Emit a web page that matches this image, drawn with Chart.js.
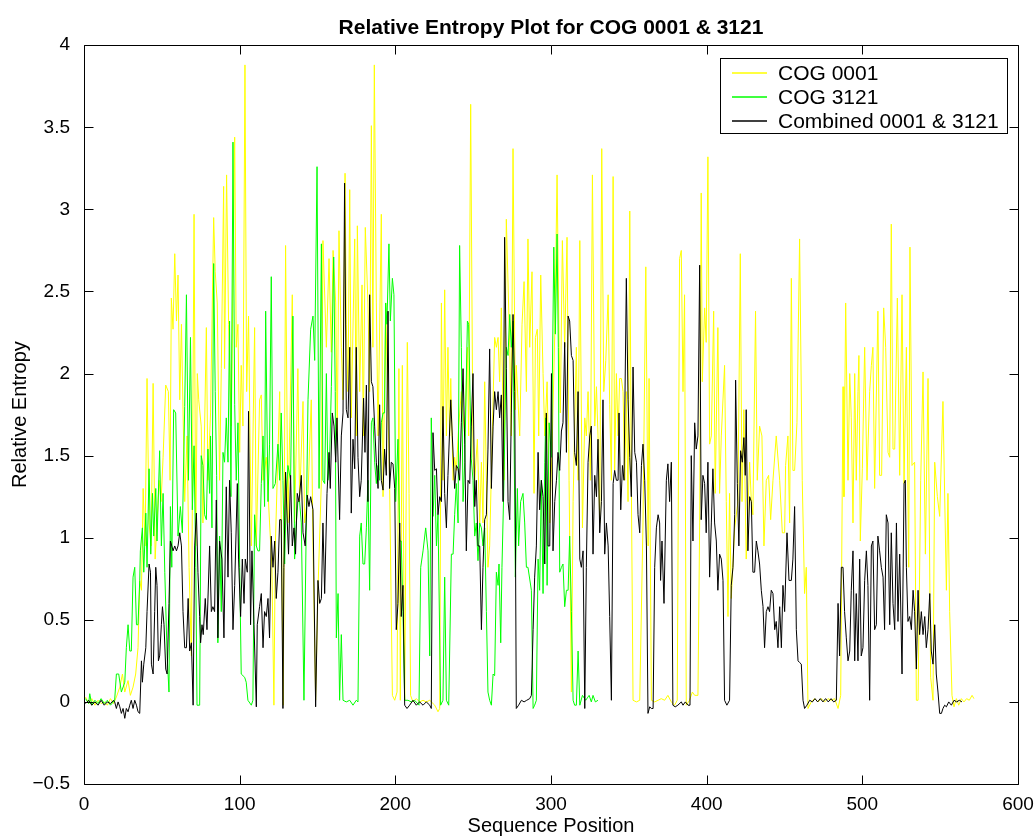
<!DOCTYPE html>
<html>
<head>
<meta charset="utf-8">
<title>Relative Entropy Plot for COG 0001 &amp; 3121</title>
<script src="https://cdn.jsdelivr.net/npm/chart.js@4.4.1/dist/chart.umd.min.js"></script>
<style>
	html, body { margin: 0; padding: 0; background: #ffffff; }
	#wrap { width: 1036px; height: 838px; }
</style>
</head>
<body>
<div id="wrap"><canvas id="entropy" width="1036" height="838"></canvas></div>
<script>

	/* Data: [sequence position, relative entropy] */

	var seriesLabels = ['COG 0001', 'COG 3121', 'Combined 0001 & 3121'];
	var seriesColors = ['#ffff00', '#00ff00', '#000000'];

	var cog0001 = [
		[1,0.03],[3,-0.01],[5,0.02],[7,-0.02],[9,0.01],[11,-0.01],[13,0],[15,-0.02],[17,0.02],[19,-0.01],[20.8,0.03],[23,0.09],[24.7,0.17],[26.2,0.06],[28.3,0.13],[29.8,0.04],[31.5,0.09],[33.2,0.17],[34.7,0.33],[35.8,0.74],[36.9,0.68],[38,1.3],[39.2,0.95],[40.5,1.97],[41.8,1.09],[43.1,0.95],[44.4,1.94],[45.7,0.87],[46.9,1.09],[48.2,1.35],[49.5,1.22],[50.8,1.49],[52.5,1.93],[54.2,1.89],[55.3,1.35],[56.1,2.46],[57.2,2.27],[58.3,2.73],[59.4,2.32],[60.4,2.6],[61.5,1.84],[62.6,2.3],[63.6,1.78],[64.7,1.22],[66.2,1.62],[67.5,0.82],[69,0.28],[70.7,2.97],[71.8,0.95],[72.8,2.0],
		[73.7,1.84],[75.3,1.68],[76.4,1.09],[78.6,2.28],[79.6,1.35],[81.3,1.76],[83.3,2.95],[84.3,2.62],[85.6,2.43],[87.1,1.35],[88.2,2.03],[89.7,3.14],[90.3,2.03],[91.6,3.21],[92.9,2.3],[94.6,1.68],[96.8,3.44],[97.8,2.16],[98.9,2.3],[100,1.52],[101,2.05],[102.1,1.68],[103.4,3.88],[104.5,1.89],[105.7,2.35],[107.5,0.95],[109.6,2.28],[110.7,0.95],[112.8,1.84],[113.9,1.87],[115,1.35],[117.1,1.49],[119.2,1.09],[120.7,0.82],[122,-0.02],[122.9,0.95],[125.7,1.89],[126.7,1.14],[128,-0.02],[129.5,2.78],[131,1.09],[133.8,2.48],[135.3,1.09],[137.4,2.03],[138.5,1.22],[140.7,1.83],[141.7,1.09],[143.9,1.27],[146,1.84],
		[147.1,0.95],[148.8,0.01],[150.3,0.68],[152.5,1.35],[153.5,2.81],[155.7,2.16],[157.4,2.7],[158.9,2.13],[160,2.75],[161.7,2.43],[162.7,1.62],[163.8,2.87],[165.3,2.16],[166.4,1.84],[167.7,3.22],[168.5,2.3],[169.6,1.89],[170.7,3.12],[171.7,1.73],[173.9,2.82],[174.9,1.62],[175.6,2.9],[177.1,1.89],[178.6,2.54],[179.4,1.62],[180.7,2.89],[182.4,2.43],[183.5,1.89],[184.6,3.51],[185.6,2.16],[186.5,3.88],[187.8,2.43],[188.9,1.62],[191,2.97],[192.1,1.25],[193.8,2.43],[195.3,1.76],[196.3,1.35],[198.1,0.04],[199.6,0.01],[201.1,0.06],[202.3,2.03],[203.2,0.01],[204.5,2.05],[206,0.01],[207.7,2.19],[208.8,1.27],[209.8,0.04],[211.3,0],[213.5,0.02],[215.6,0],[217.8,0.01],[219.9,0],
		[222.1,0.01],[225.3,-0.02],[227.4,-0.06],[228.5,-0.04],[229.6,2.43],[230.6,1.35],[231.7,2.51],[232.8,1.62],[233.8,2.16],[234.9,1.62],[235.6,1.97],[237.1,1.35],[238.1,1.49],[239.2,1.41],[240.7,1.68],[242.4,1.89],[244.6,1.62],[246.3,2.16],[247.1,1.62],[248.4,3.64],[249.9,1.49],[251,1.35],[252.7,1.6],[254.2,1.09],[255.3,1.46],[256.3,1.09],[257.4,1.95],[258.5,1.35],[259.5,0.82],[260.6,0.95],[262.1,1.57],[263.8,2.22],[264.9,2.16],[266,2.22],[267,1.95],[268.1,2.4],[269.8,1.35],[271.3,2.94],[273.5,2.16],[274.5,1.62],[275.6,3.37],[277.1,1.78],[277.7,2.05],[279.9,1.62],[281.4,2.3],[282.7,2.56],[284.2,1.89],[285.2,2.82],[286.3,2.16],[287.8,2.62],[289.1,1.27],[290,2.22],[291.2,2.27],[292.1,1.62],[293.4,2.6],[294.9,2.0],
		[296,1.62],[297.5,1.95],[299.2,1.09],[300.9,1.62],[302.4,2.24],[303.9,3.21],[305.2,2.16],[306,1.76],[307.3,2.81],[308.8,2.16],[310.3,2.83],[311.6,1.35],[313.1,0.06],[314.2,1.22],[316.3,2.16],[317.4,1.35],[318.5,2.81],[320.2,1.06],[321.7,1.73],[322.7,1.62],[323.8,1.89],[325.3,1.35],[326.6,3.21],[328.1,1.68],[329.2,1.92],[330.2,1.62],[331.3,1.09],[332.6,3.37],[333.9,1.89],[335.2,2.08],[336.7,2.48],[337.7,1.81],[338.8,1.35],[339.9,3.2],[340.9,1.41],[342,2.0],[343.1,1.62],[344.1,1.97],[345.2,1.97],[346.3,1.89],[347.4,1.35],[348.4,1.89],[349.5,1.22],[350.6,2.99],[351.6,1.35],[352.7,0.01],[354.9,0],[357,0.01],[359.1,1.09],[360.9,2.65],[362.4,0.95],[363,1.97],[364.5,0.01],[366.6,0],[368.8,0.01],
		[370.8,0.02],[373,0.01],[375.1,0.04],[377.3,0],[379.4,-0.02],[381.1,0.01],[382.6,2.7],[383.7,2.75],[384.8,1.89],[385.8,2.48],[386.9,-0.02],[389,0.01],[390.8,0.06],[392.3,0.04],[394.4,0.04],[395.5,1.09],[396.5,3.1],[397.2,1.95],[398.7,2.4],[399.7,2.19],[400.8,3.32],[401.9,1.57],[403,1.62],[404.5,2.38],[405.5,1.27],[407.2,2.28],[408.3,1.27],[409.4,1.62],[411.5,2.05],[412.6,1.22],[413.7,0.52],[414.7,1.27],[415.8,0.63],[418,1.06],[420.1,1.22],[421.6,2.73],[422.7,1.22],[423.9,1.78],[425.4,0.87],[427.6,1.46],[428.7,1.22],[429.7,1.14],[431.4,2.38],[432.5,1.35],[434,1.68],[435.5,1.62],[436.8,0.95],[438.3,1.35],[439.8,1.38],[441.1,1.11],[442.6,1.35],
		[444.7,1.62],[446.9,1.35],[448.6,1.03],[450.1,1.03],[450.7,1.44],[452.2,1.62],[453.3,1.09],[454.4,2.58],[455.4,1.41],[456.5,1.41],[458,1.7],[459.7,2.82],[461.4,1.35],[462.9,0.66],[464,0.82],[465.1,-0.04],[467.2,0],[469.4,0.02],[471.5,0],[473.6,0.02],[475.8,0],[477.9,0.02],[480.1,0.01],[482.2,0.02],[484.4,-0.04],[486.1,0.04],[487.6,1.92],[488.2,1.25],[489.3,2.43],[490.8,1.35],[491.9,2.0],[492.9,1.73],[494,1.09],[495.1,2.0],[496.1,1.35],[497.2,1.89],[497.8,2.11],[498.7,0.98],[500,1.42],[501.5,2.16],[503,1.35],[504.7,1.89],[505.8,2.05],[506.8,2.16],[507.9,1.3],[510,2.38],[511.1,1.38],[512.4,1.38],[513.7,2.4],[515,2.16],[516.5,1.52],
		[517.6,1.49],[518.6,2.91],[519.7,1.54],[520.8,1.54],[522.5,2.46],[524,1.38],[525.5,2.48],[526.8,1.33],[528.3,2.16],[529.8,0.82],[530.6,2.77],[531.9,1.44],[533.6,1.46],[534.7,0.01],[535.8,0.01],[537.5,1.35],[539,2.01],[540.5,0.9],[542.2,1.97],[543.9,0.15],[545.4,0.01],[546.5,1.46],[548.2,1.25],[549.7,1.13],[551.8,1.83],[554,0.68],[555,1.27],[556.1,0.55],[557.6,0.04],[558.9,-0.03],[560.4,0.02],[561.9,-0.02],[563.6,0.02],[565.3,0],[567,0.02],[568.7,0.01],[570.5,0.04],[571.7,0.02]
	];

	var cog3121 = [
		[1,0.02],[3,-0.01],[3.7,0.05],[5,-0.02],[7,0.01],[9,-0.01],[11,0.02],[13,-0.01],[15,0.01],[17,-0.02],[19.7,0.01],[20.8,0.17],[22.3,0.17],[24,0.06],[26.2,0.12],[27.2,0.33],[28.3,0.47],[29.4,0.31],[30.4,0.31],[31.5,0.76],[32.6,0.82],[33.7,0.47],[34.7,0.47],[35.8,0.74],[36.2,0.92],[37.5,1.06],[38.4,0.79],[39.7,1.15],[40.5,0.82],[41.8,1.42],[42.9,0.9],[44,1.27],[44.8,1.01],[46.1,1.3],[46.9,0.98],[48.6,1.53],[49.7,0.95],[50.8,1.27],[51.9,0.79],[53.4,0.28],[54.6,0.06],[55.5,1.19],[56.4,0.82],[57.6,1.78],[58.9,1.76],[60.4,1.01],[61.9,1.19],[63.2,1.03],[64.7,1.8],[65.8,2.48],[67.1,1.35],[68.4,2.22],[69.6,1.17],[70.7,1.56],[71.8,0.82],[72.6,-0.02],
		[74.3,-0.02],[75.3,1.5],[76.4,1.44],[77.5,1.14],[78.6,1.11],[79.6,1.54],[80.7,1.27],[81.3,1.62],[82.2,1.06],[83.3,2.67],[84.3,1.89],[85.2,1.38],[86,0.36],[87.1,1.01],[88.2,0.55],[89.3,1.52],[90.3,1.46],[91.4,1.73],[92.5,1.46],[93.5,2.32],[94.4,1.25],[95.7,3.41],[96.8,1.81],[97.8,1.35],[98.9,1.7],[100,0.82],[101,0.17],[103.2,0.15],[104.2,0.12],[105.3,0.01],[107.5,-0.02],[108.5,0.01],[109.6,1.14],[110.7,0.95],[111.7,0.92],[112.8,0.92],[113.9,1.33],[115,1.62],[116,1.19],[116.7,2.38],[118.2,1.22],[119.2,1.57],[120.3,2.59],[121.4,1.3],[122.9,1.33],[124.6,1.57],[125.7,1.35],[126.7,1.76],[127.8,1.35],[128.9,0.84],[129.9,1.25],[131,1.44],[132.7,1.35],[134.2,2.35],[135.3,0.87],[136.4,1.09],[137.4,1.22],[138.5,1.22],[139.6,1.09],[141.3,0.01],[142.8,1.09],[143.9,1.84],[145.6,2.27],
		[147.1,2.35],[148.2,2.08],[149.7,3.26],[151,1.3],[152.5,2.79],[153.5,1.35],[154.6,1.33],[155.7,2.0],[156.7,1.35],[157.8,1.49],[158.9,1.92],[160.4,2.71],[161.4,1.89],[162.1,0.39],[163.2,0.66],[164.2,0.01],[165.3,0.41],[166.4,0.01],[168.5,0],[170.7,0.01],[172.8,-0.02],[174.9,0.01],[176,0],[177.1,1.01],[178.1,1.09],[179.2,0.84],[180.3,0.84],[181.4,1.06],[182.4,1.35],[183.5,0.68],[184.6,1.7],[185.6,1.73],[186.7,1.46],[187.8,1.33],[188.9,1.44],[189.9,1.35],[191,1.7],[192.1,1.76],[193.1,1.76],[193.8,2.43],[194.6,2.3],[195.9,2.79],[196.8,2.32],[198.1,2.58],[199.1,2.48],[200.2,1.22],[201.7,1.6],[202.8,0.98],[203.8,0.98],[204.9,0.55],[206,0.01],[208.1,0.01],[210.3,0],[212.4,0.01],[215.2,-0.02],[216.3,0.82],[217.8,0.92],[219.5,1.06],[221,0.92],
		[222.1,0.28],[223.1,1.73],[224.2,1.13],[225.3,1.38],[226.4,0.95],[227.4,1.14],[229.1,-0.02],[230.6,0.01],[231.7,0.76],[232.8,0.01],[234.3,-0.02],[236,0.9],[237.1,0.9],[238.1,1.14],[239.2,1.33],[240.3,1.09],[241.3,2.78],[242.4,2.16],[243.5,1.22],[244.6,1.46],[246.3,2.32],[247.1,2.3],[248.8,1.48],[249.9,1.35],[251,1.01],[252,1.09],[253.1,0.86],[254.2,1.09],[255.3,1.06],[256.3,0.95],[257.4,1.06],[258.5,0.55],[259.5,0.06],[260.6,0.01],[261.7,-0.02],[262.8,0.17],[263.8,0.16],[264.9,0.79],[266,0.71],[266.6,0.84],[267.7,0.36],[268.5,0.82],[269.8,1.35],[271.3,2.16],[272.4,2.11],[273.5,2.36],[274.5,2.16],[275.6,2.32],[277.1,0.76],[278.4,1.3],[279.2,0.95],[280.5,1.22],[282,1.27],[283.1,1.09],[284.2,0.82],[285.2,0.82],[287.4,0.68],[288.5,-0.04],[289.5,-0.02],[290.6,0.01],[291.7,0.87],[292.7,0.68],[293.8,1.35],[294.9,0.66],
		[296,1.46],[296.6,1.73],[297.5,0.71],[298.8,1.7],[300.3,1.49],[301.8,2.77],[302.8,2.24],[303.9,2.85],[304.7,2.16],[305.6,0.79],[306.7,0.82],[307.7,0.84],[308.8,0.58],[309.9,0.68],[311,0.68],[312,1.01],[313.1,0.55],[314.2,0.01],[315.2,-0.02],[316.3,-0.02],[317.4,0.31],[318.5,-0.02],[320.2,0.04],[322.3,0.01],[324.5,0.04],[325.9,0],[327,0.04],[328.5,0],[330.2,0.01]
	];

	var combined = [
		[1,-0.01],[3,0.01],[5,-0.02],[7,0],[9,-0.02],[11,0.01],[13,-0.02],[15,0],[17,-0.01],[19,0.01],[19.7,0],[20.8,-0.04],[21.9,0],[23,-0.03],[24,-0.07],[25.1,-0.04],[26.2,-0.1],[27.2,-0.04],[28.3,-0.06],[29.4,-0.02],[30.4,0.01],[31.5,-0.04],[32.6,0.01],[33.7,-0.02],[34.7,-0.06],[35.8,-0.07],[36.9,0.25],[37.5,0.12],[38.4,0.23],[39.7,0.33],[40.5,0.55],[41.8,0.84],[42.7,0.79],[43.3,0.23],[44.4,0.17],[45.4,0.55],[46.1,0.82],[46.9,0.71],[47.8,0.25],[48.6,0.28],[49.7,0.47],[50.4,0.58],[51.4,0.47],[52.5,0.2],[53.4,0.17],[54.6,0.6],[55.5,0.98],[56.4,0.95],[57.2,0.92],[58.3,0.95],[59.4,0.92],[60.4,0.95],[61.5,1.03],[62.6,0.95],[63.6,0.55],[64.7,0.33],[65.8,0.33],[66.9,0.63],[67.9,0.31],[69,0.36],[70.1,-0.02],[71.1,0.95],[72.2,1.15],
		[73.2,0.79],[74.3,0.52],[74.9,0.36],[75.8,0.47],[76.6,0.41],[77.9,0.63],[79,0.44],[80.7,0.95],[81.8,0.55],[82.8,0.58],[83.9,0.55],[85,1.23],[86,0.39],[87.1,0.98],[88.6,0.87],[89.9,0.39],[91.4,1.31],[92.5,0.76],[93.5,1.35],[94.6,1.03],[95.7,0.44],[96.8,0.71],[98.5,1.33],[99.3,0.87],[100.6,0.52],[101.7,0.87],[102.8,0.6],[103.6,0.87],[104.9,0.79],[105.7,1.77],[107,0.47],[107.9,0.92],[109.2,0.47],[110.7,-0.03],[111.3,0.47],[112.8,0.58],[113.9,0.66],[115,0.33],[116,0.55],[117.1,0.52],[118.2,0.63],[119.2,0.39],[120.3,1.01],[121.4,0.82],[122.5,0.98],[123.5,0.63],[124.6,0.79],[125.7,1.11],[126.7,1.11],[127.8,-0.04],[128.4,0.82],[129.5,1.4],[130.6,1.09],[131.4,0.9],[132.7,1.38],[133.8,0.95],[134.9,1.06],[135.9,0.9],[137,1.27],[138.1,1.22],[139.6,1.38],[140.7,1.03],[142.1,0.95],[143.4,1.26],[144.5,1.19],[145.6,1.25],[147.1,1.17],
		[148.8,-0.03],[150.3,0.74],[151.4,0.6],[152.5,0.63],[153.5,1.09],[154.6,0.66],[156.1,1.27],[157.4,1.52],[158.2,1.3],[159.5,1.76],[160.6,1.68],[161.7,1.46],[162.5,1.73],[164.2,1.11],[165.3,1.62],[166.4,1.76],[167.4,3.16],[168.5,1.78],[169.6,1.73],[170.7,2.16],[171.7,1.15],[172.8,1.6],[173.9,1.42],[174.9,2.16],[176,1.49],[177.1,1.25],[178.1,1.35],[179.6,1.85],[180.5,1.52],[181.4,1.93],[182.4,1.22],[183.5,2.48],[184.6,1.95],[185.6,1.92],[186.7,1.68],[187.8,1.46],[188.9,1.3],[189.9,1.81],[191,1.35],[192.1,1.29],[193.1,1.54],[194.2,1.38],[195.3,2.38],[196.3,1.3],[197.4,1.46],[198.5,1.45],[199.6,1.3],[200.6,0.44],[201.7,0.6],[202.8,1.09],[203.8,0.52],[204.9,0.71],[206,-0.02],[207.5,-0.04],[209.2,-0.02],[211.3,0.01],[213.5,-0.02],[215.6,0],[217.8,-0.02],[219.9,0],
		[222.1,-0.02],[223.1,-0.04],[224.2,1.64],[225.3,1.41],[226.4,1.42],[227.4,1.14],[228.5,1.25],[229.6,1.22],[230.6,1.8],[231.7,1.27],[232.8,1.06],[233.8,1.38],[235.6,1.84],[236.6,1.62],[238.1,1.3],[239.2,1.44],[240.3,1.42],[241.3,1.35],[242.4,1.7],[243.5,2.03],[244.6,1.57],[245.6,0.92],[246.7,1.35],[247.8,1.33],[248.8,1.68],[249.9,2.0],[251,1.19],[252,1.35],[253.1,0.95],[254.2,0.95],[255.3,0.44],[256.3,0.82],[257.4,1.11],[258.5,1.14],[259.5,1.54],[260.6,2.15],[261.7,1.3],[262.8,1.68],[263.8,1.89],[264.9,1.78],[266,1.89],[267,1.73],[268.1,1.87],[269.2,1.22],[270.2,2.83],[271.3,2.03],[272.4,1.22],[273.5,1.11],[274.5,1.76],[275.6,2.36],[276.7,1.89],[277.7,-0.04],[279.2,-0.02],[281,0.01],[282.7,0],[284.4,0.01],[286.3,0.02],[287.4,0.04],[288.5,0.44],[289.5,0.76],[290.6,0.95],[291.7,1.52],[292.7,1.17],[293.8,1.35],[294.9,1.25],
		[296,0.84],[297,1.76],[298.1,0.95],[299.2,0.95],[300.3,2.0],[301.3,0.92],[302.4,1.22],[303.5,1.35],[304.5,1.52],[305.6,1.41],[306.7,1.65],[307.7,1.7],[308.8,2.19],[309.9,1.52],[311,2.35],[312,2.32],[313.1,2.11],[314.2,2.08],[315.2,1.52],[316.3,1.44],[317.4,1.89],[318.5,0.87],[319.5,0.82],[320.6,0.92],[321.7,-0.04],[322.7,0.82],[323.8,1.46],[324.9,1.62],[325.9,1.68],[327,0.9],[328.1,1.38],[329.2,1.25],[330.2,1.6],[331.3,1.03],[332.4,1.22],[333.4,1.84],[334.5,0.9],[335.6,1.09],[336.7,0.95],[337.7,0.52],[338.8,0.01],[339.9,1.33],[340.9,1.41],[342,1.35],[343.1,1.35],[343.7,1.76],[344.8,1.17],[345.9,1.44],[346.9,1.35],[348.4,2.58],[349.5,1.84],[350.6,1.49],[351.6,1.25],[352.7,2.04],[353.8,1.52],[354.9,1.46],[355.9,1.14],[357,1.03],[358.1,1.44],[359.1,1.57],[360.2,1.35],[361.3,0.95],[362.3,-0.07],[363.4,-0.03],[364.5,-0.04],[365.6,-0.04],[366.6,0.82],[367.7,1.06],[368.8,1.14],
		[369.8,1.09],[370.4,0.74],[371.3,0.98],[372.6,0.6],[374.1,1.35],[375.1,1.45],[376.2,1.22],[377.3,1.46],[378.3,-0.02],[379.8,-0.03],[381.5,-0.02],[383.7,0],[384.8,-0.02],[386.3,0],[388,-0.02],[389.3,-0.02],[390.1,1.5],[391.2,0.98],[392.3,1.7],[393.3,1.54],[394.4,1.62],[395.5,2.66],[396.5,1.11],[397.6,1.38],[398.7,1.33],[399.7,1.03],[400.8,1.46],[401.9,0.76],[403,1.09],[404,1.42],[405.1,1.09],[406.2,0.98],[407.2,0.68],[408.3,0.9],[409.4,0.87],[410.5,0.74],[411.5,0.01],[413,-0.02],[414.7,0.01],[415.8,0.71],[416.9,0.82],[418,1.14],[418.6,1.96],[419.7,1.33],[420.7,0.95],[421.8,1.53],[422.9,1.46],[423.9,1.61],[424.8,1.38],[425.4,1.78],[426.5,0.92],[427.6,1.25],[428.7,1.22],[429.7,0.79],[430.8,0.79],[431.9,0.98],[432.9,0.92],[434,0.84],[435.1,0.68],[436.2,0.58],[437.2,0.33],[438.3,0.55],[439.4,0.58],[440.4,0.55],[441.5,0.68],[442.6,0.66],
		[443.7,0.44],[444.7,0.49],[445.8,0.33],[446.9,0.58],[448,0.33],[449,0.71],[450.1,0.55],[451.6,1.03],[452.9,0.74],[454.4,0.74],[455.4,0.87],[456.5,1.19],[457.6,0.44],[458.7,0.25],[459.7,0.24],[460.8,0.23],[461.9,0.01],[462.9,-0.04],[464.4,-0.02],[466.2,0.01],[467.9,0],[469.6,0.02],[471.3,0],[473,0.02],[474.7,0],[476.4,0.02],[478.1,0],[479.9,0.02],[481.6,0],[483.3,0.01],[484.4,0.6],[485.4,0.28],[486.5,0.82],[487.6,0.82],[488.6,0.55],[489.7,0.39],[490.8,0.25],[491.9,0.31],[492.9,0.68],[494,0.92],[495.1,0.25],[496.1,0.66],[497.2,0.25],[498.3,0.87],[499.3,0.28],[500.4,0.33],[501.5,0.74],[502.6,0.92],[503.6,0.71],[504.7,0.01],[505.8,0.95],[506.8,0.98],[507.9,0.44],[509,0.47],[510,1.01],[511.1,0.92],[512.2,0.82],[513.3,0.76],[514.3,0.44],[515.4,1.14],[516.5,1.09],
		[517.6,0.47],[518.6,1.03],[519.7,0.6],[520.8,0.44],[521.9,1.09],[522.9,0.49],[524,0.9],[525.5,0.17],[526.8,1.33],[527.6,1.35],[528.3,0.82],[529.3,0.49],[530.4,0.52],[531.5,0.44],[532.6,0.68],[533.6,0.55],[534.7,0.2],[535.8,0.68],[536.8,0.41],[537.9,0.55],[539,0.41],[540.1,0.52],[541.1,0.33],[542.2,0.44],[543.3,0.66],[544.3,0.31],[545.4,0.23],[546.5,0.47],[547.5,0.17],[548.6,0.06],[549.7,-0.07],[550.8,-0.07],[551.8,-0.04],[552.9,-0.02],[554,-0.03],[555.5,0],[557.2,-0.02],[558.9,0.01],[560.6,0],[562.3,0.01],[564,0]
	];

	var xTickStep = 100;
	var yTickStep = 0.5;


	/* helpers */

	function toPoints(pairs) {
		return pairs.map(function(p) { return { x: p[0], y: p[1] }; });
	}

	var FONT = "'Liberation Sans', Arial, Helvetica, sans-serif";
	Chart.defaults.font.family = FONT;
	Chart.defaults.color = '#000000';


	/* matlab style box with inward ticks on all four sides */

	var axesBox = {
		id: 'axesBox',
		afterDatasetsDraw: function(chart) {
			var ctx = chart.ctx;
			var a = chart.chartArea;
			var xs = chart.scales.x;
			var ys = chart.scales.y;
			var L = Math.round(a.left) + 0.5, R = Math.round(a.right) + 0.5;
			var T = Math.round(a.top) + 0.5, B = Math.round(a.bottom) + 0.5;
			var len = 9;

			ctx.save();
			ctx.strokeStyle = '#000000';
			ctx.lineWidth = 1;
			ctx.beginPath();
			ctx.rect(L, T, R - L, B - T);

			xs.ticks.forEach(function(t) {
				var px = Math.round(xs.getPixelForValue(t.value)) + 0.5;
				ctx.moveTo(px, B); ctx.lineTo(px, B - len);
				ctx.moveTo(px, T); ctx.lineTo(px, T + len);
			});
			ys.ticks.forEach(function(t) {
				var py = Math.round(ys.getPixelForValue(t.value)) + 0.5;
				ctx.moveTo(L, py); ctx.lineTo(L + len, py);
				ctx.moveTo(R, py); ctx.lineTo(R - len, py);
			});
			ctx.stroke();
			ctx.restore();
		}
	};


	/* legend box in the upper right corner of the axes */

	var boxLegend = {
		id: 'boxLegend',
		afterDraw: function(chart) {
			var ctx = chart.ctx;
			var a = chart.chartArea;
			var right = Math.round(a.right) - 11;
			var top = Math.round(a.top) + 13;
			var w = 287, h = 75, left = right - w;
			var rowH = 24;

			ctx.save();
			ctx.fillStyle = '#ffffff';
			ctx.fillRect(left, top, w, h);
			ctx.strokeStyle = '#000000';
			ctx.lineWidth = 1;
			ctx.strokeRect(left + 0.5, top + 0.5, w, h);

			ctx.font = '21px ' + FONT;
			ctx.textBaseline = 'middle';
			ctx.textAlign = 'left';
			seriesLabels.forEach(function(label, i) {
				var y = top + 15 + i * rowH;
				ctx.strokeStyle = seriesColors[i];
				ctx.lineWidth = 1.6;
				ctx.beginPath();
				ctx.moveTo(left + 12, y);
				ctx.lineTo(left + 47, y);
				ctx.stroke();
				ctx.fillStyle = '#000000';
				ctx.fillText(label, left + 58, y + 1);
			});
			ctx.restore();
		}
	};


	/* Relative Entropy Chart */

	var entropyData = {
		datasets: [{
			label: seriesLabels[0],
			data: toPoints(cog0001),
			borderColor: seriesColors[0],
			order: 3
		}, {
			label: seriesLabels[1],
			data: toPoints(cog3121),
			borderColor: seriesColors[1],
			order: 2
		}, {
			label: seriesLabels[2],
			data: toPoints(combined),
			borderColor: seriesColors[2],
			order: 1
		}]
	};

	var entropyChart = new Chart(document.getElementById('entropy'), {
		type: 'line',
		data: entropyData,
		plugins: [axesBox, boxLegend],
		options: {
			responsive: false,
			devicePixelRatio: 1,
			animation: false,
			elements: {
				line: { borderWidth: 1, tension: 0, fill: false },
				point: { radius: 0, hoverRadius: 0 }
			},
			layout: {
				padding: { left: 0, right: 18, top: 0, bottom: 0 }
			},
			plugins: {
				legend: { display: false },
				tooltip: { enabled: false },
				title: {
					display: true,
					text: 'Relative Entropy Plot for COG 0001 & 3121',
					fullSize: false,
					color: '#000000',
					font: { size: 21, weight: 'bold', family: FONT },
					padding: { top: 16, bottom: 4 }
				}
			},
			scales: {
				x: {
					type: 'linear',
					min: 0,
					max: 600,
					grid: { display: false },
					border: { display: false },
					ticks: {
						stepSize: xTickStep,
						color: '#000000',
						font: { size: 19 },
						padding: 1,
						maxRotation: 0
					},
					title: {
						display: true,
						text: 'Sequence Position',
						color: '#000000',
						font: { size: 20 },
						padding: { top: 0, bottom: 0 }
					},
					afterFit: function(scale) { scale.height = 54; }
				},
				y: {
					min: -0.5,
					max: 4,
					grid: { display: false },
					border: { display: false },
					ticks: {
						stepSize: yTickStep,
						color: '#000000',
						font: { size: 19 },
						padding: 6,
						callback: function(v) { return String(v).replace('-', '\u2212'); }
					},
					title: {
						display: true,
						text: 'Relative Entropy',
						color: '#000000',
						font: { size: 20 },
						padding: { top: 8, bottom: 0 }
					},
					afterFit: function(scale) { scale.width = 84; }
				}
			}
		}
	});

</script>
</body>
</html>
